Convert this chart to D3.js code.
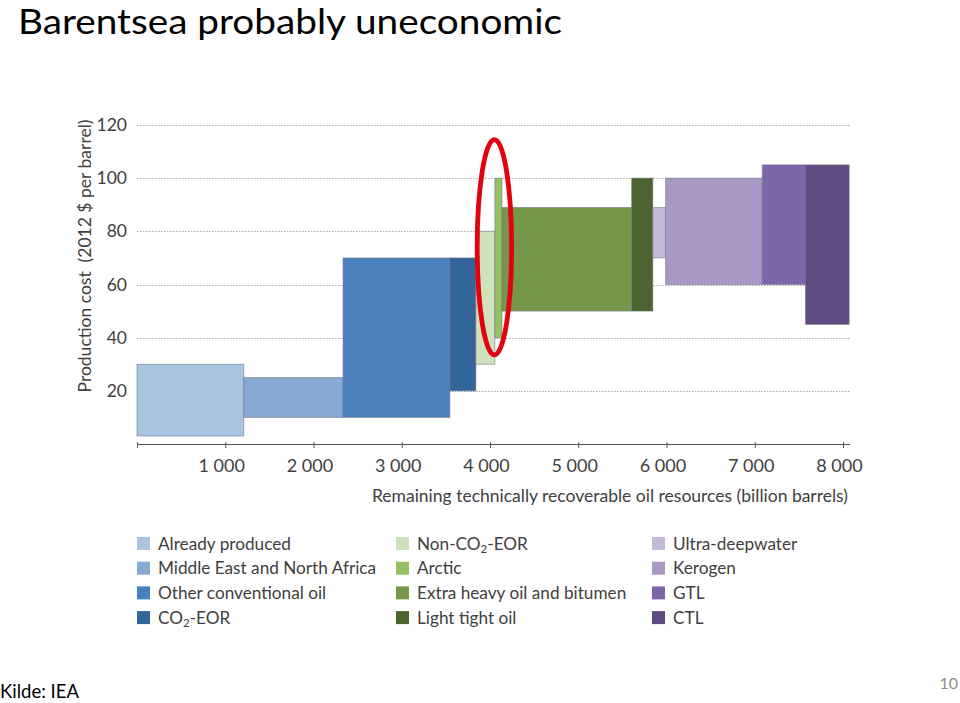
<!DOCTYPE html>
<html>
<head>
<meta charset="utf-8">
<script src="https://cdn.jsdelivr.net/npm/d3@7"></script>
<style>
  html, body { margin: 0; padding: 0; background: #fff; }
  svg { display: block; }
  text { font-family: Lato, "Open Sans", sans-serif; }
</style>
</head>
<body>
<svg id="chart" width="960" height="703"></svg>
<script>
// ---------- data ----------
const categories = ["Already produced", "Middle East and North Africa", "Other conventional oil", "CO2-EOR",
  "Non-CO2-EOR", "Arctic", "Extra heavy oil and bitumen", "Light tight oil",
  "Ultra-deepwater", "Kerogen", "GTL", "CTL"];
// cumulative resources at the right edge of each block (billion barrels)
const resourceEnd = [1210, 2335, 3545, 3840, 4055, 4135, 5605, 5845, 5990, 7085, 7575, 8070];
// production cost range (2012 $ per barrel)
const costLow  = [3, 10, 10, 20, 30, 40, 50, 50, 70, 60, 60, 45];
const costHigh = [30, 25, 70, 70, 80, 100, 89, 100, 89, 100, 105, 105];
const colors = ["#a9c4e0", "#86aad3", "#4b7fbd", "#33649a", "#cfe2bb", "#95c063", "#76964a", "#4b6430",
  "#c4b9d9", "#a898c4", "#7c66a9", "#5f4c80"];
const yTicks = [20, 40, 60, 80, 100, 120];
const xTicks = [0, 1000, 2000, 3000, 4000, 5000, 6000, 7000, 8000];
const xTickLabels = ["", "1 000", "2 000", "3 000", "4 000", "5 000", "6 000", "7 000", "8 000"];
// highlighted region (Barents Sea / Arctic), in data units
const highlight = { cx: 4050, cy: 74, rx: 195, ry: 40.5 };

// ---------- scales ----------
const svg = d3.select("#chart");
const x = d3.scaleLinear().domain([0, 8000]).range([137, 843]);
const y = d3.scaleLinear().domain([0, 120]).range([444, 125]);
const xEndPlot = x(8080);

const bars = categories.map((c, i) => ({
  name: c,
  x0: i === 0 ? 0 : resourceEnd[i - 1],
  x1: resourceEnd[i],
  lo: costLow[i],
  hi: costHigh[i],
  color: colors[i]
}));

// ---------- title & footer ----------
svg.append("text").attr("x", 18).attr("y", 34)
  .attr("font-size", 34).attr("fill", "#000")
  .attr("textLength", 544).attr("lengthAdjust", "spacingAndGlyphs")
  .text("Barentsea probably uneconomic");
svg.append("text").attr("x", 0).attr("y", 698)
  .attr("font-size", 18.5).attr("fill", "#000").text("Kilde: IEA");
svg.append("text").attr("x", 958).attr("y", 689).attr("text-anchor", "end")
  .attr("font-size", 16).attr("fill", "#8b8b8b").text("10");

// ---------- gridlines ----------
svg.append("g").selectAll("line").data(yTicks).join("line")
  .attr("x1", x(0)).attr("x2", xEndPlot)
  .attr("y1", d => Math.round(y(d)) + 0.5).attr("y2", d => Math.round(y(d)) + 0.5)
  .attr("stroke", "#a6a6a6").attr("stroke-width", 1).attr("stroke-dasharray", "1.5,1.5");

// ---------- y axis (labels only) ----------
const yAxis = d3.axisLeft(y).tickValues(yTicks).tickSize(0).tickPadding(10);
const gy = svg.append("g").attr("transform", `translate(${x(0)},0)`).call(yAxis);
gy.select(".domain").remove();
gy.selectAll("text").attr("font-size", 17.5).attr("fill", "#404040")
  .style("font-family", "Lato, 'Open Sans', sans-serif");

// ---------- bars ----------
svg.append("g").selectAll("rect").data(bars).join("rect")
  .attr("x", d => x(d.x0)).attr("width", d => x(d.x1) - x(d.x0))
  .attr("y", d => y(d.hi)).attr("height", d => y(d.lo) - y(d.hi))
  .attr("fill", d => d.color)
  .attr("stroke", "#6f7386").attr("stroke-opacity", 0.55).attr("stroke-width", 1);

// ---------- x axis ----------
const xAxis = d3.axisBottom(x).tickValues(xTicks).tickSize(4).tickSizeOuter(0)
  .tickFormat((d, i) => xTickLabels[i]).tickPadding(11);
const gx = svg.append("g").attr("transform", `translate(0,${y(0)})`).call(xAxis);
gx.select(".domain").attr("d", `M${x(0)},0.5H${xEndPlot}`).attr("stroke", "#555");
gx.selectAll(".tick line").attr("stroke", "#555").attr("y1", -2);
gx.selectAll("text").attr("font-size", 18).attr("fill", "#404040").attr("dx", -4)
  .style("font-family", "Lato, 'Open Sans', sans-serif");

// axis titles
svg.append("text").attr("x", 848).attr("y", 502).attr("text-anchor", "end")
  .attr("font-size", 17.5).attr("fill", "#404040")
  .text("Remaining technically recoverable oil resources (billion barrels)");
svg.append("text").attr("transform", `translate(91,${(120 + 392) / 2}) rotate(-90)`)
  .attr("text-anchor", "middle").attr("font-size", 17.5).attr("fill", "#404040")
  .attr("xml:space", "preserve")
  .text("Production cost  (2012 $ per barrel)");

// ---------- highlight ellipse ----------
svg.append("ellipse")
  .attr("cx", x(highlight.cx)).attr("cy", y(highlight.cy))
  .attr("rx", x(highlight.cx + highlight.rx) - x(highlight.cx))
  .attr("ry", y(highlight.cy - highlight.ry) - y(highlight.cy))
  .attr("fill", "none").attr("stroke", "#e3000f").attr("stroke-width", 4.8);

// ---------- legend ----------
const legendCols = [137, 396, 652];
const legendRows = [537, 561.7, 586.4, 611.1];
const leg = svg.append("g").selectAll("g").data(bars).join("g")
  .attr("transform", (d, i) => `translate(${legendCols[Math.floor(i / 4)]},${legendRows[i % 4]})`);
leg.append("rect").attr("width", 13).attr("height", 13).attr("fill", d => d.color);
leg.append("text").attr("x", 21).attr("y", 12.5).attr("font-size", 17.2).attr("fill", "#404040")
  .each(function (d) {
    const t = d3.select(this);
    const m = d.name.match(/^(.*)CO2(.*)$/);
    if (m) {
      t.append("tspan").text(m[1] + "CO");
      t.append("tspan").attr("font-size", 11.5).attr("dy", 3).text("2");
      t.append("tspan").attr("dy", -3).text(m[2]);
    } else {
      t.text(d.name);
    }
  });
</script>
</body>
</html>
